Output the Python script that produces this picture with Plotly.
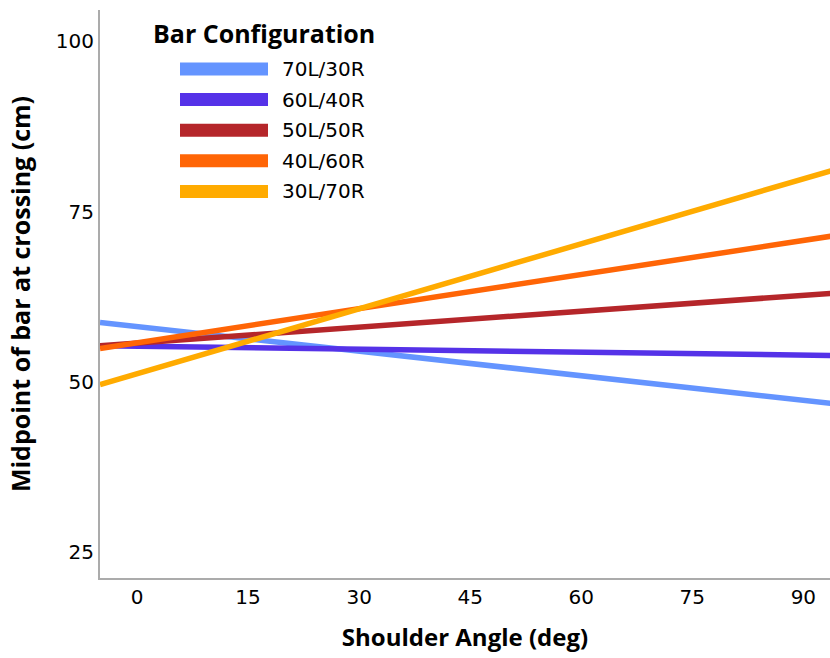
import plotly.graph_objects as go

# Data
configs = ["70L/30R", "60L/40R", "50L/50R", "40L/60R", "30L/70R"]
colors = ["#6494FF", "#5532E8", "#B5262A", "#FF6506", "#FFAB00"]
angles = [-5, 95]
mid_70_30 = [58.7, 46.7]
mid_60_40 = [55.3, 53.85]
mid_50_50 = [55.3, 63.1]
mid_40_60 = [54.9, 71.6]
mid_30_70 = [49.6, 81.4]
series = [mid_70_30, mid_60_40, mid_50_50, mid_40_60, mid_30_70]
x_ticks = [0, 15, 30, 45, 60, 75, 90]
y_ticks = [25, 50, 75, 100]

W, H = 830, 658
ML, MR, MT, MB = 100, 0, 10, 80
PW, PH = W - ML - MR, H - MT - MB

def px_x(px):
    return (px - ML) / PW

def px_y(py):
    return (H - MB - py) / PH

TITLE_FONT = "Open Sans"
TEXT_FONT = "DejaVu Sans"

fig = go.Figure()
for name, col, ys in zip(configs, colors, series):
    fig.add_trace(go.Scatter(x=angles, y=ys, mode="lines", name=name,
                             line=dict(color=col, width=5.5),
                             showlegend=False, cliponaxis=True))

shapes = []
annotations = []
# custom legend
annotations.append(dict(text="<b>Bar Configuration</b>", xref="paper", yref="paper",
                        x=px_x(151), y=px_y(33), xanchor="left", yanchor="middle",
                        showarrow=False, font=dict(family=TITLE_FONT, size=25, color="#000")))
row0, step = 69, 30.6
for i, (name, col) in enumerate(zip(configs, colors)):
    cy = row0 + i * step
    shapes.append(dict(type="rect", xref="paper", yref="paper",
                       x0=px_x(180), x1=px_x(268), y0=px_y(cy - 6.5), y1=px_y(cy + 6.5),
                       fillcolor=col, line=dict(width=0), layer="above"))
    annotations.append(dict(text=name, xref="paper", yref="paper",
                            x=px_x(280), y=px_y(cy), xanchor="left", yanchor="middle",
                            showarrow=False, font=dict(family=TEXT_FONT, size=20, color="#000")))

fig.update_layout(
    width=W, height=H,
    margin=dict(l=ML, r=MR, t=MT, b=MB),
    paper_bgcolor="white", plot_bgcolor="white",
    shapes=shapes, annotations=annotations,
    xaxis=dict(range=[-5, 93.6], tickvals=x_ticks, ticks="", showgrid=False, zeroline=False,
               showline=True, linecolor="#ABABAB", linewidth=2,
               tickfont=dict(family=TEXT_FONT, size=20, color="#000"),
               title=dict(text="<b>Shoulder Angle (deg)</b>", standoff=21,
                          font=dict(family=TITLE_FONT, size=24, color="#000"))),
    yaxis=dict(range=[21.2, 104.6], tickvals=y_ticks, ticks="", showgrid=False, zeroline=False,
               showline=True, linecolor="#ABABAB", linewidth=2,
               tickfont=dict(family=TEXT_FONT, size=20, color="#000"),
               title=dict(text="<b>Midpoint of bar at crossing (cm)</b>", standoff=18,
                          font=dict(family=TITLE_FONT, size=25, color="#000"))),
)

fig.write_html("out.html")
